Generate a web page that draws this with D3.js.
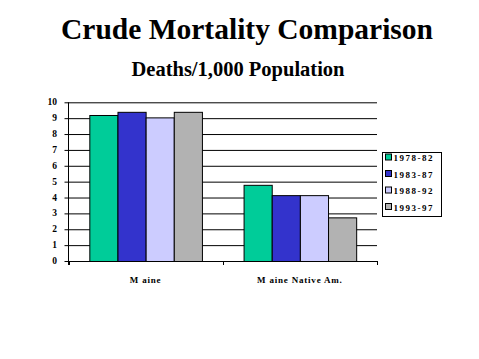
<!DOCTYPE html>
<html><head><meta charset="utf-8">
<script src="https://cdn.jsdelivr.net/npm/d3@7"></script>
<style>body{margin:0;background:#fff}svg{display:block}</style>
</head><body><svg id="c" width="479" height="359"></svg>
<script>
const categories = ["M aine", "M aine Native Am."];
const seriesNames = ["1978-82", "1983-87", "1988-92", "1993-97"];
const seriesColors = ["#00cc99", "#3333cc", "#ccccff", "#b2b2b2"];
const maineValues = [9.2, 9.4, 9.05, 9.4];
const nativeValues = [4.8, 4.15, 4.15, 2.75];
const yTicks = [0,1,2,3,4,5,6,7,8,9,10];

const svg = d3.select("#c");
const serif = "'Liberation Serif','Times New Roman',serif";
const L = 68.5, R = 377, T = 102.3, B = 261;

svg.append("text").attr("x", 247).attr("y", 39).attr("text-anchor","middle")
  .attr("font-family", serif).attr("font-weight","bold").attr("font-size", 29.5).text("Crude Mortality Comparison");
svg.append("text").attr("x", 238).attr("y", 76).attr("text-anchor","middle")
  .attr("font-family", serif).attr("font-weight","bold").attr("font-size", 20.5).text("Deaths/1,000 Population");

const y = d3.scaleLinear().domain([0,10]).range([B, T]);
const x0 = d3.scaleBand().domain(categories).range([L, R]).paddingInner(0.27).paddingOuter(0.135);
const x1 = d3.scaleBand().domain(seriesNames).range([0, x0.bandwidth()]);

// gridlines
svg.append("g").selectAll("line").data(yTicks).join("line")
  .attr("x1", L-4).attr("x2", R).attr("y1", d=>y(d)+0.5).attr("y2", d=>y(d)+0.5)
  .attr("stroke","#000").attr("stroke-width",1);

// y axis labels
svg.append("g").selectAll("text").data(yTicks).join("text")
  .attr("x", 57).attr("y", d=>y(d)+3).attr("text-anchor","end")
  .attr("font-family", serif).attr("font-weight","bold").attr("font-size", 9.5).text(d=>d);

const data = [maineValues, nativeValues];
const groups = svg.append("g").selectAll("g").data(categories).join("g")
  .attr("transform", d=>`translate(${x0(d)},0)`);
groups.selectAll("rect").data((d,i)=>data[i].map((v,j)=>({v, s: seriesNames[j], c: seriesColors[j]})))
  .join("rect")
  .attr("x", d=>x1(d.s)+0.5).attr("width", x1.bandwidth())
  .attr("y", d=>y(d.v)+0.5).attr("height", d=>B - y(d.v))
  .attr("fill", d=>d.c).attr("stroke","#000").attr("stroke-width",1);

// axes
svg.append("line").attr("x1", L).attr("x2", L).attr("y1", T).attr("y2", B+4).attr("stroke","#000");
svg.append("line").attr("x1", L).attr("x2", R).attr("y1", B+0.5).attr("y2", B+0.5).attr("stroke","#000");
const bounds = [L, (L+R)/2, R];
svg.append("g").selectAll("line").data(bounds).join("line")
  .attr("x1", d=>Math.round(d)+0.5).attr("x2", d=>Math.round(d)+0.5).attr("y1", B).attr("y2", B+4).attr("stroke","#000");

svg.append("g").selectAll("text").data(categories).join("text")
  .attr("x", d=>x0(d)+x0.bandwidth()/2).attr("y", 283).attr("text-anchor","middle")
  .attr("font-family", serif).attr("font-weight","bold").attr("font-size", 9).attr("letter-spacing", 0.8).text(d=>d);

// legend
const lg = svg.append("g");
lg.append("rect").attr("x", 382.5).attr("y", 152.5).attr("width", 59).attr("height", 64)
  .attr("fill","#fff").attr("stroke","#000");
const items = lg.selectAll("g").data(seriesNames).join("g")
  .attr("transform", (d,i)=>`translate(0,${157.5 + i*16.5})`);
items.append("rect").attr("x", 385.5).attr("y", -3.5).attr("width", 6).attr("height", 6)
  .attr("fill", (d,i)=>seriesColors[i]).attr("stroke","#000");
items.append("text").attr("x", 393.5).attr("y", 3.5)
  .attr("font-family", serif).attr("font-weight","bold").attr("font-size", 9).attr("letter-spacing", 1.5).text(d=>d);
</script></body></html>
